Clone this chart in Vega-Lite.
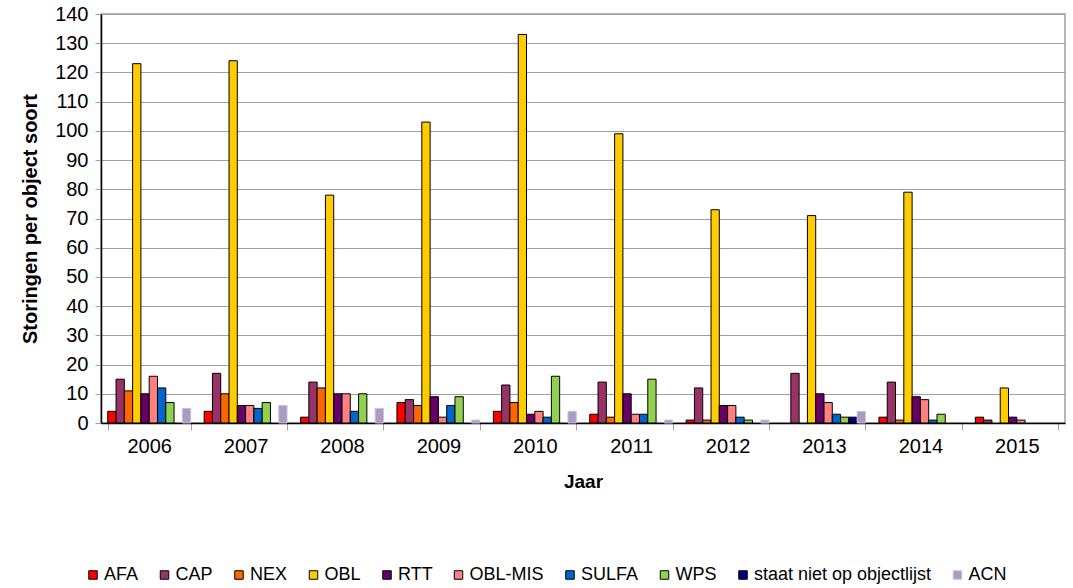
{
  "$schema": "https://vega.github.io/schema/vega-lite/v6.json",
  "width": 964,
  "height": 409,
  "autosize": {"type": "none"},
  "padding": {"left": 101, "top": 14, "right": 8, "bottom": 165},
  "background": "white",
  "config": {
    "font": "Liberation Sans",
    "view": {"stroke": "#a0a0a0", "strokeWidth": 1.5},
    "axis": {"labelFont": "Liberation Sans", "titleFont": "Liberation Sans", "labelColor": "black", "titleColor": "black"}
  },
  "data": {
    "values": [
      {"jaar": "2006", "soort": "AFA", "aantal": 4},
      {"jaar": "2006", "soort": "CAP", "aantal": 15},
      {"jaar": "2006", "soort": "NEX", "aantal": 11},
      {"jaar": "2006", "soort": "OBL", "aantal": 123},
      {"jaar": "2006", "soort": "RTT", "aantal": 10},
      {"jaar": "2006", "soort": "OBL-MIS", "aantal": 16},
      {"jaar": "2006", "soort": "SULFA", "aantal": 12},
      {"jaar": "2006", "soort": "WPS", "aantal": 7},
      {"jaar": "2006", "soort": "ACN", "aantal": 5},
      {"jaar": "2007", "soort": "AFA", "aantal": 4},
      {"jaar": "2007", "soort": "CAP", "aantal": 17},
      {"jaar": "2007", "soort": "NEX", "aantal": 10},
      {"jaar": "2007", "soort": "OBL", "aantal": 124},
      {"jaar": "2007", "soort": "RTT", "aantal": 6},
      {"jaar": "2007", "soort": "OBL-MIS", "aantal": 6},
      {"jaar": "2007", "soort": "SULFA", "aantal": 5},
      {"jaar": "2007", "soort": "WPS", "aantal": 7},
      {"jaar": "2007", "soort": "ACN", "aantal": 6},
      {"jaar": "2008", "soort": "AFA", "aantal": 2},
      {"jaar": "2008", "soort": "CAP", "aantal": 14},
      {"jaar": "2008", "soort": "NEX", "aantal": 12},
      {"jaar": "2008", "soort": "OBL", "aantal": 78},
      {"jaar": "2008", "soort": "RTT", "aantal": 10},
      {"jaar": "2008", "soort": "OBL-MIS", "aantal": 10},
      {"jaar": "2008", "soort": "SULFA", "aantal": 4},
      {"jaar": "2008", "soort": "WPS", "aantal": 10},
      {"jaar": "2008", "soort": "ACN", "aantal": 5},
      {"jaar": "2009", "soort": "AFA", "aantal": 7},
      {"jaar": "2009", "soort": "CAP", "aantal": 8},
      {"jaar": "2009", "soort": "NEX", "aantal": 6},
      {"jaar": "2009", "soort": "OBL", "aantal": 103},
      {"jaar": "2009", "soort": "RTT", "aantal": 9},
      {"jaar": "2009", "soort": "OBL-MIS", "aantal": 2},
      {"jaar": "2009", "soort": "SULFA", "aantal": 6},
      {"jaar": "2009", "soort": "WPS", "aantal": 9},
      {"jaar": "2009", "soort": "ACN", "aantal": 1},
      {"jaar": "2010", "soort": "AFA", "aantal": 4},
      {"jaar": "2010", "soort": "CAP", "aantal": 13},
      {"jaar": "2010", "soort": "NEX", "aantal": 7},
      {"jaar": "2010", "soort": "OBL", "aantal": 133},
      {"jaar": "2010", "soort": "RTT", "aantal": 3},
      {"jaar": "2010", "soort": "OBL-MIS", "aantal": 4},
      {"jaar": "2010", "soort": "SULFA", "aantal": 2},
      {"jaar": "2010", "soort": "WPS", "aantal": 16},
      {"jaar": "2010", "soort": "ACN", "aantal": 4},
      {"jaar": "2011", "soort": "AFA", "aantal": 3},
      {"jaar": "2011", "soort": "CAP", "aantal": 14},
      {"jaar": "2011", "soort": "NEX", "aantal": 2},
      {"jaar": "2011", "soort": "OBL", "aantal": 99},
      {"jaar": "2011", "soort": "RTT", "aantal": 10},
      {"jaar": "2011", "soort": "OBL-MIS", "aantal": 3},
      {"jaar": "2011", "soort": "SULFA", "aantal": 3},
      {"jaar": "2011", "soort": "WPS", "aantal": 15},
      {"jaar": "2011", "soort": "ACN", "aantal": 1},
      {"jaar": "2012", "soort": "AFA", "aantal": 1},
      {"jaar": "2012", "soort": "CAP", "aantal": 12},
      {"jaar": "2012", "soort": "NEX", "aantal": 1},
      {"jaar": "2012", "soort": "OBL", "aantal": 73},
      {"jaar": "2012", "soort": "RTT", "aantal": 6},
      {"jaar": "2012", "soort": "OBL-MIS", "aantal": 6},
      {"jaar": "2012", "soort": "SULFA", "aantal": 2},
      {"jaar": "2012", "soort": "WPS", "aantal": 1},
      {"jaar": "2012", "soort": "ACN", "aantal": 1},
      {"jaar": "2013", "soort": "CAP", "aantal": 17},
      {"jaar": "2013", "soort": "OBL", "aantal": 71},
      {"jaar": "2013", "soort": "RTT", "aantal": 10},
      {"jaar": "2013", "soort": "OBL-MIS", "aantal": 7},
      {"jaar": "2013", "soort": "SULFA", "aantal": 3},
      {"jaar": "2013", "soort": "WPS", "aantal": 2},
      {"jaar": "2013", "soort": "staat niet op objectlijst", "aantal": 2},
      {"jaar": "2013", "soort": "ACN", "aantal": 4},
      {"jaar": "2014", "soort": "AFA", "aantal": 2},
      {"jaar": "2014", "soort": "CAP", "aantal": 14},
      {"jaar": "2014", "soort": "NEX", "aantal": 1},
      {"jaar": "2014", "soort": "OBL", "aantal": 79},
      {"jaar": "2014", "soort": "RTT", "aantal": 9},
      {"jaar": "2014", "soort": "OBL-MIS", "aantal": 8},
      {"jaar": "2014", "soort": "SULFA", "aantal": 1},
      {"jaar": "2014", "soort": "WPS", "aantal": 3},
      {"jaar": "2015", "soort": "AFA", "aantal": 2},
      {"jaar": "2015", "soort": "CAP", "aantal": 1},
      {"jaar": "2015", "soort": "OBL", "aantal": 12},
      {"jaar": "2015", "soort": "RTT", "aantal": 2},
      {"jaar": "2015", "soort": "OBL-MIS", "aantal": 1}
    ]
  },
  "mark": {"type": "bar", "strokeWidth": 1},
  "encoding": {
    "x": {
      "field": "jaar", "type": "ordinal",
      "scale": {"paddingInner": 0.14, "paddingOuter": 0.07},
      "axis": {
        "title": "Jaar", "titleFontSize": 19, "titleFontWeight": "bold", "titlePadding": 16,
        "labelAngle": 0, "labelFontSize": 20, "labelPadding": 6,
        "tickBand": "extent", "tickColor": "#a0a0a0", "tickSize": 7,
        "domainColor": "black", "domainWidth": 1.5
      }
    },
    "xOffset": {
      "field": "soort", "type": "nominal",
      "scale": {"domain": ["AFA", "CAP", "NEX", "OBL", "RTT", "OBL-MIS", "SULFA", "WPS", "staat niet op objectlijst", "ACN"], "paddingInner": 0, "paddingOuter": 0}
    },
    "y": {
      "field": "aantal", "type": "quantitative",
      "scale": {"domain": [0, 140], "nice": false},
      "axis": {
        "title": "Storingen per object soort", "titleFontSize": 20, "titleFontWeight": "bold", "titlePadding": 14,
        "values": [0, 10, 20, 30, 40, 50, 60, 70, 80, 90, 100, 110, 120, 130, 140],
        "labelFontSize": 20, "labelPadding": 7,
        "tickColor": "#a0a0a0", "tickSize": 6,
        "gridColor": "#a0a0a0", "gridWidth": 1,
        "domainColor": "black", "domainWidth": 1.5
      }
    },
    "color": {
      "field": "soort", "type": "nominal",
      "scale": {
        "domain": ["AFA", "CAP", "NEX", "OBL", "RTT", "OBL-MIS", "SULFA", "WPS", "staat niet op objectlijst", "ACN"],
        "range": ["#FF0000", "#993366", "#FF6600", "#FFCC00", "#660066", "#FF8080", "#0066CC", "#92D050", "#000080", "#A99BC4"]
      },
      "legend": {
        "title": null, "orient": "none", "direction": "horizontal",
        "legendX": -17, "legendY": 552,
        "symbolType": "square", "symbolSize": 72, "symbolStrokeWidth": 1,
        "labelFontSize": 18, "labelFont": "Liberation Sans", "labelColor": "black", "labelOffset": 2,
        "columnPadding": 16.5, "symbolOpacity": 1, "labelLimit": 400
      }
    },
    "stroke": {
      "field": "soort", "type": "nominal",
      "scale": {
        "domain": ["AFA", "CAP", "NEX", "OBL", "RTT", "OBL-MIS", "SULFA", "WPS", "staat niet op objectlijst", "ACN"],
        "range": ["black", "black", "black", "black", "black", "black", "black", "black", "black", "#c8c0dc"]
      }
    }
  }
}
